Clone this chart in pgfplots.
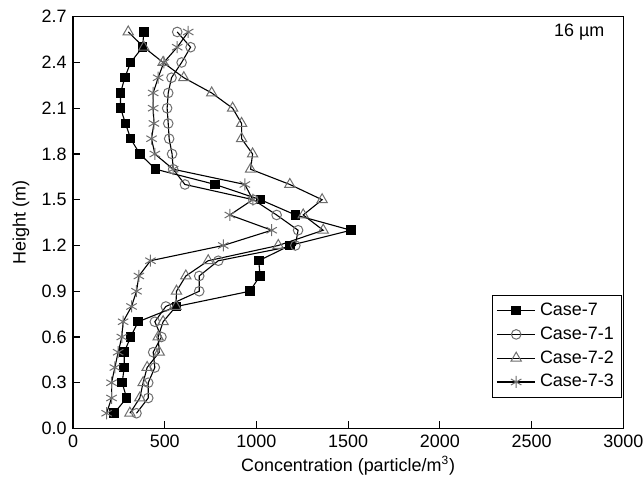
\documentclass[border=0pt]{standalone}
\usepackage{fontspec}
\setmainfont{Liberation Sans}
\usepackage{pgfplots}
\pgfplotsset{compat=1.18}

\definecolor{markgray}{HTML}{6E6E6E}

\begin{document}
\fontsize{9}{10.8}\selectfont
\begin{tikzpicture}
\begin{axis}[
    scale only axis,
    width=275bp, height=205.8bp,
    xmin=0, xmax=3000, ymin=0, ymax=2.7,
    xtick={0,500,...,3000},
    ytick={0,0.3,...,2.71},
    tick align=inside,
    tick pos=left,
    major tick length=3.5bp,
    axis line style={line width=0.6bp},
    every tick/.style={line width=0.6bp, black},
    /pgf/number format/assume math mode=true,
    xticklabel style={/pgf/number format/1000 sep={}},
    yticklabel style={/pgf/number format/.cd, fixed, fixed zerofill, precision=1},
    xlabel={Concentration (particle/m\textsuperscript{3})},
    ylabel={Height (m)},
    xlabel style={yshift=2bp},
    ylabel style={yshift=0bp},
    every axis plot/.append style={line width=0.55bp, black},
    legend cell align=left,
    legend style={at={(1,0)}, anchor=south east, yshift=15.2bp, xshift=-0.5bp,
        draw=black, line width=0.5bp, inner sep=2bp, row sep=0.3bp,
        font=\fontsize{9}{10.8}\selectfont},
    legend image code/.code={\draw[mark repeat=2,mark phase=2,#1] plot coordinates {(0cm,0cm) (0.34cm,0cm) (0.68cm,0cm)};},
]

% Case-7
\addplot[mark=square*, mark size=2.1bp, mark options={solid, fill=black, draw=black}] coordinates {
(224,0.1) (292,0.2) (268,0.3) (279,0.4) (279,0.5) (314,0.6) (355,0.7) (564,0.8)
(964,0.9) (1019,1.0) (1013,1.1) (1182,1.2) (1515,1.3) (1213,1.4) (1022,1.5)
(775,1.6) (450,1.7) (364,1.8) (314,1.9) (286,2.0) (259,2.1) (259,2.2) (282,2.3)
(314,2.4) (379,2.5) (386,2.6)
};
\addlegendentry{Case-7}

% Case-7-1
\addplot[mark=o, mark size=2.4bp, mark options={solid, draw=markgray, fill=white, line width=0.5bp}] coordinates {
(346,0.1) (410,0.2) (410,0.3) (446,0.4) (437,0.5) (482,0.6) (446,0.7) (506,0.8)
(688,0.9) (688,1.0) (792,1.1) (1212,1.2) (1227,1.3) (1110,1.4) (983,1.5)
(610,1.6) (546,1.7) (540,1.8) (524,1.9) (519,2.0) (513,2.1) (519,2.2) (537,2.3)
(592,2.4) (641,2.5) (568,2.6)
};
\addlegendentry{Case-7-1}

% Case-7-2
\addplot[mark=triangle, mark size=3bp, mark options={solid, draw=markgray, fill=white, line width=0.5bp}] coordinates {
(310,0.1) (364,0.2) (382,0.3) (404,0.4) (470,0.5) (464,0.6) (491,0.7) (561,0.8)
(564,0.9) (615,1.0) (737,1.1) (1119,1.2) (1364,1.3) (1255,1.4) (1358,1.5)
(1182,1.6) (968,1.7) (979,1.8) (919,1.9) (919,2.0) (870,2.1) (756,2.2) (604,2.3)
(491,2.4) (386,2.5) (301,2.6)
};
\addlegendentry{Case-7-2}

% Case-7-3
\addplot[mark=asterisk, mark size=3bp, mark options={solid, draw=markgray, line width=0.5bp}] coordinates {
(183,0.1) (210,0.2) (210,0.3) (228,0.4) (246,0.5) (266,0.6) (273,0.7) (319,0.8)
(346,0.9) (359,1.0) (422,1.1) (819,1.2) (1083,1.3) (855,1.4) (980,1.5)
(937,1.6) (546,1.7) (446,1.8) (428,1.9) (441,2.0) (437,2.1) (437,2.2) (464,2.3)
(495,2.4) (568,2.5) (628,2.6)
};
\addlegendentry{Case-7-3}

\node[anchor=center] at (rel axis cs:0.92,0.963) {16 µm};
\end{axis}
\pgfresetboundingbox
\path ([xshift=-36.5bp,yshift=-27.35bp]current axis.south west) rectangle ([xshift=10.35bp,yshift=8.35bp]current axis.north east);
\end{tikzpicture}
\end{document}
